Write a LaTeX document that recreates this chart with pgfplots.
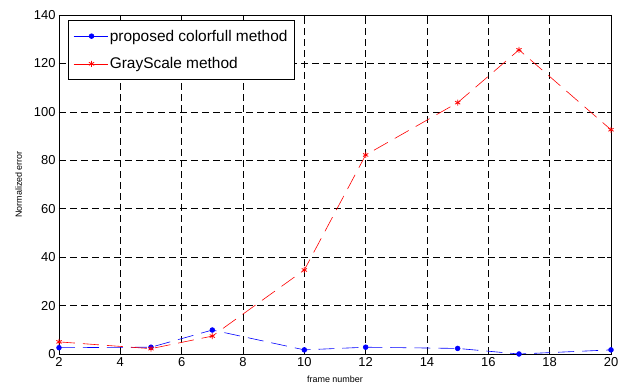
\documentclass[border=0pt]{standalone}
\usepackage{pgfplots}
\pgfplotsset{compat=1.18}
\usetikzlibrary{calc}
\usepackage{fontspec}
\setmainfont{Liberation Sans}
\begin{document}
\begin{tikzpicture}[x=1bp,y=1bp]
\begin{axis}[
  name=ax,
  scale only axis,
  width=552bp, height=339bp,
  xmin=2, xmax=20, ymin=0, ymax=140,
  xtick={2,4,...,20}, ytick={0,20,...,140},
  tick align=inside,
  xtick pos=both, ytick pos=both,
  major tick length=4bp,
  grid=major,
  major grid style={black, dash pattern=on 7bp off 4bp, line width=0.6bp},
  axis line style={black, line width=0.6bp},
  every tick/.style={black, line width=0.6bp},
  tick label style={font=\fontsize{13}{15}\selectfont},
  /pgf/number format/assume math mode=true,
  xlabel={frame number},
  ylabel={Normalized error},
  label style={font=\fontsize{9}{10}\selectfont},
  xlabel style={yshift=-2bp},
  ylabel style={yshift=5bp},
  legend style={at={(rel axis cs:0.016,0.984)}, anchor=north west,
    draw=black, line width=0.8bp, font=\fontsize{15.5}{17}\selectfont,
    row sep=11bp, inner xsep=5bp, inner ysep=7bp},
  legend cell align=left,
  legend image code/.code={
    \draw[#1, solid] (0bp,0bp) -- (34bp,0bp);
    \draw[#1, solid, only marks] plot coordinates {(18bp,0bp)};
  },
]
\addplot[blue, line width=0.6bp, dash pattern=on 16bp off 8bp, mark=*, mark size=2.4bp,
  mark options={solid, fill=blue}]
  coordinates {(2,2.6) (5,2.8) (7,9.9) (10,1.7) (12,2.8) (15,2.3) (17,0) (20,1.7)};
\addlegendentry{proposed colorfull method}
\addplot[red, line width=0.6bp, dash pattern=on 16bp off 8bp, mark=asterisk, mark size=3bp,
  mark options={solid, line width=0.8bp}]
  coordinates {(2,5) (5,2.2) (7,7.4) (10,34.7) (12,82.2) (15,103.8) (17,125.6) (20,92.6)};
\addlegendentry{GrayScale method}
\end{axis}
\path ($(ax.south west)+(-59bp,-31bp)$) rectangle ($(ax.north east)+(15bp,15bp)$);
\end{tikzpicture}
\end{document}
